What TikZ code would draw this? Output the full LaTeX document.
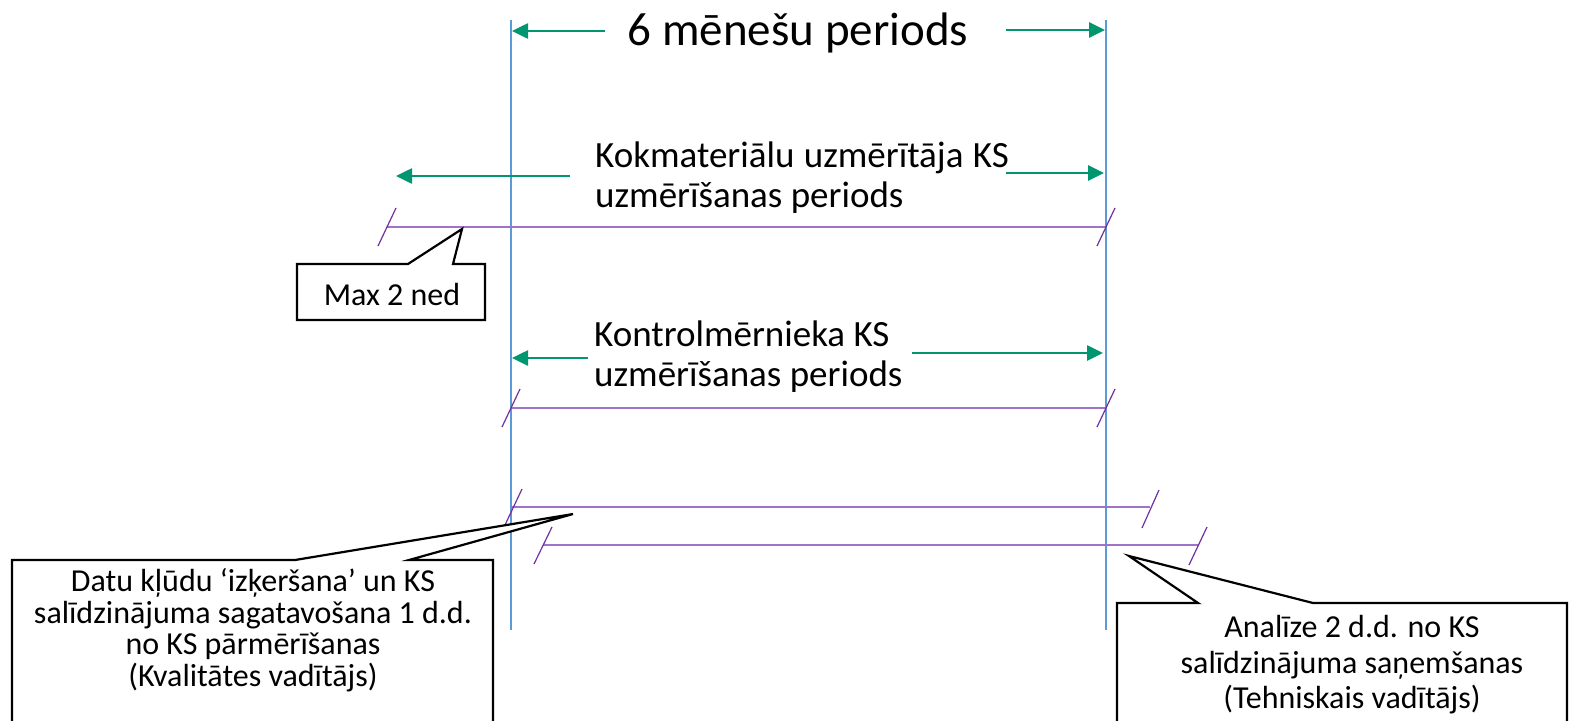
\documentclass[tikz,border=0pt]{standalone}
\usepackage{fontspec}
\setmainfont{Carlito}
\usetikzlibrary{arrows.meta}
\definecolor{vblue}{RGB}{91,155,213}
\definecolor{arrgreen}{RGB}{0,150,112}
\definecolor{lpurple}{RGB}{160,115,200}
\definecolor{dpurple}{RGB}{112,48,160}
\tikzset{
  vline/.style={draw=vblue, line width=1.3pt},
  garrow/.style={draw=arrgreen, line width=2.6pt, -{Triangle[length=16pt,width=15pt]}},
  pline/.style={draw=lpurple, line width=1.7pt},
  slash/.style={draw=dpurple, line width=1.2pt},
  callout/.style={draw=black, line width=2.2pt, fill=white, line join=miter},
  bigtxt/.style={inner sep=0pt, font=\fontsize{47}{47}\selectfont},
  midtxt/.style={inner sep=0pt, align=left, font=\fontsize{37}{40}\selectfont},
  smalltxt/.style={inner sep=0pt, align=center, font=\fontsize{32}{31.5}\selectfont},
  smalltxtb/.style={inner sep=0pt, align=center, font=\fontsize{32}{35.5}\selectfont},
}
\begin{document}
\begin{tikzpicture}[x=1pt, y=-1pt]
\useasboundingbox (0,0) rectangle (1570,720);
\clip (0,0) rectangle (1570,720);
% vertical lines
\coordinate (v1t) at (511,20); \coordinate (v1b) at (511,630);
\coordinate (v2t) at (1106,20); \coordinate (v2b) at (1106,630);
\draw[vline] (v1t) -- (v1b);
\draw[vline] (v2t) -- (v2b);
% top label
\node[bigtxt, anchor=base] (t6) at (798,45) {6 mēnešu periods};
\coordinate (a1s) at (605,31); \coordinate (a1e) at (512,31);
\coordinate (a2s) at (1006,30); \coordinate (a2e) at (1105,30);
\draw[garrow] (a1s) -- (a1e);
\draw[garrow] (a2s) -- (a2e);
% Kokmateriālu
\node[midtxt, anchor=base west] (kok) at (595,207) {Kokmateriālu\hspace{1pt} uzmērītāja\hspace{1pt} KS\\uzmērīšanas periods};
\coordinate (b1s) at (570,176); \coordinate (b1e) at (396,176);
\coordinate (b2s) at (1006,173); \coordinate (b2e) at (1104,173);
\draw[garrow] (b1s) -- (b1e);
\draw[garrow] (b2s) -- (b2e);
% purple line 1
\coordinate (p1l) at (387,227); \coordinate (p1r) at (1106,227);
\draw[pline] (p1l) -- (p1r);
\coordinate (s1a) at (396,208); \coordinate (s1b) at (378,246);
\draw[slash] (s1a) -- (s1b);
\coordinate (s2a) at (1115,208); \coordinate (s2b) at (1097,246);
\draw[slash] (s2a) -- (s2b);
% callout Max 2 ned
\coordinate (m1) at (297,264); \coordinate (m2) at (408,264);
\coordinate (mt) at (462,229); \coordinate (m3) at (453,264);
\coordinate (m4) at (485,264); \coordinate (m5) at (485,320); \coordinate (m6) at (297,320);
\draw[callout] (m1) -- (m2) -- (mt) -- (m3) -- (m4) -- (m5) -- (m6) -- cycle;
\node[smalltxt, anchor=center] (max) at (392,295) {Max 2 ned};
% Kontrolmērnieka
\node[midtxt, anchor=base west] (kon) at (594,386) {Kontrolmērnieka KS\\uzmērīšanas periods};
\coordinate (c1s) at (588,358); \coordinate (c1e) at (512,358);
\coordinate (c2s) at (912,353); \coordinate (c2e) at (1103,353);
\draw[garrow] (c1s) -- (c1e);
\draw[garrow] (c2s) -- (c2e);
% purple line 2
\coordinate (p2l) at (511,408); \coordinate (p2r) at (1106,408);
\draw[pline] (p2l) -- (p2r);
\coordinate (s3a) at (520,389); \coordinate (s3b) at (502,427);
\draw[slash] (s3a) -- (s3b);
\coordinate (s4a) at (1115,389); \coordinate (s4b) at (1097,427);
\draw[slash] (s4a) -- (s4b);
% purple line 3
\coordinate (p3l) at (511,507); \coordinate (p3r) at (1150,507);
\draw[pline] (p3l) -- (p3r);
\coordinate (s5a) at (522,489); \coordinate (s5b) at (505,525);
\draw[slash] (s5a) -- (s5b);
\coordinate (s6a) at (1159,490); \coordinate (s6b) at (1142,528);
\draw[slash] (s6a) -- (s6b);
% purple line 4
\coordinate (p4l) at (543,545); \coordinate (p4r) at (1198,545);
\draw[pline] (p4l) -- (p4r);
\coordinate (s7a) at (552,527); \coordinate (s7b) at (534,564);
\draw[slash] (s7a) -- (s7b);
\coordinate (s8a) at (1207,527); \coordinate (s8b) at (1189,565);
\draw[slash] (s8a) -- (s8b);
% callout left
\coordinate (l1) at (12,560); \coordinate (l2) at (295,560);
\coordinate (lt) at (573,514); \coordinate (l3) at (409,560);
\coordinate (l4) at (493,560); \coordinate (l5) at (493,740); \coordinate (l6) at (12,740);
\draw[callout] (l1) -- (l2) -- (lt) -- (l3) -- (l4) -- (l5) -- (l6) -- cycle;
\node[smalltxt, anchor=center] (datu) at (253,630) {Datu kļūdu ‘izķeršana’ un KS\\salīdzinājuma sagatavošana 1 d.d.\\no KS pārmērīšanas\\(Kvalitātes vadītājs)};
% callout right
\coordinate (r1) at (1117,603); \coordinate (r2) at (1198,603);
\coordinate (rt) at (1129,556); \coordinate (r3) at (1313,603);
\coordinate (r4) at (1567,603); \coordinate (r5) at (1567,740); \coordinate (r6) at (1117,740);
\draw[callout] (r1) -- (r2) -- (rt) -- (r3) -- (r4) -- (r5) -- (r6) -- cycle;
\node[smalltxtb, anchor=center] (ana) at (1352,665) {Analīze 2 d.d. no KS\\salīdzinājuma saņemšanas\\(Tehniskais vadītājs)};
\end{tikzpicture}
\end{document}
